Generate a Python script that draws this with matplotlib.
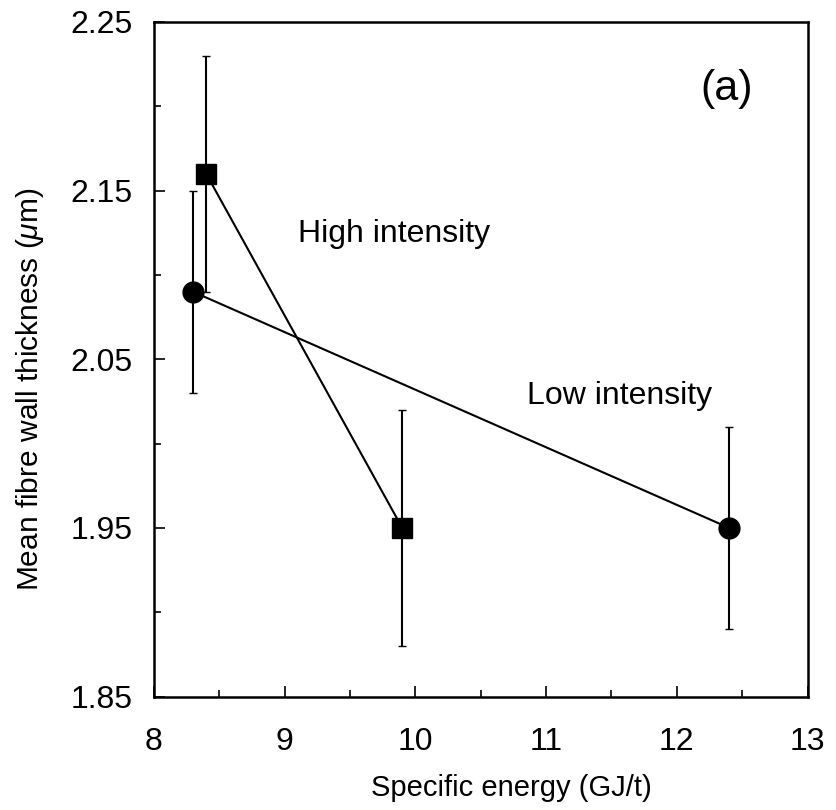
import matplotlib.pyplot as plt
from matplotlib.ticker import MultipleLocator

plt.rcParams['font.family'] = ['Liberation Sans', 'DejaVu Sans']
plt.rcParams['mathtext.fontset'] = 'custom'
plt.rcParams['mathtext.it'] = 'Liberation Sans:italic'

# Low intensity series (circles)
low_energy = [8.3, 12.4]
low_thick = [2.09, 1.95]
low_err = [0.06, 0.06]

# High intensity series (squares)
high_energy = [8.4, 9.9]
high_thick = [2.16, 1.95]
high_err = [0.07, 0.07]

x_ticks = [8, 9, 10, 11, 12, 13]
y_ticks = [1.85, 1.95, 2.05, 2.15, 2.25]

fig = plt.figure(figsize=(8.36, 8.10), dpi=100)
ax = fig.add_axes([0.184, 0.140, 0.782, 0.833])

ax.errorbar(low_energy, low_thick, yerr=low_err, fmt="o-", color="black",
            markersize=15, linewidth=1.5, elinewidth=1.5, capsize=3)
ax.errorbar(high_energy, high_thick, yerr=high_err, fmt="s-", color="black",
            markersize=14, linewidth=1.5, elinewidth=1.5, capsize=3)

ax.text(9.84, 2.124, "High intensity", fontsize=23, ha="center", va="center")
ax.text(11.56, 2.028, "Low intensity", fontsize=23, ha="center", va="center")
ax.text(12.38, 2.210, "(a)", fontsize=31, ha="center", va="center")

ax.set_xlim(8, 13)
ax.set_ylim(1.85, 2.25)
ax.set_xticks(x_ticks)
ax.set_yticks(y_ticks)
ax.set_yticklabels([f"{v:.2f}" for v in y_ticks])
ax.xaxis.set_minor_locator(MultipleLocator(0.5))
ax.yaxis.set_minor_locator(MultipleLocator(0.05))
ax.tick_params(direction="in", which="both", top=False, right=False,
               labelsize=23, width=1.2)
ax.tick_params(axis="y", which="major", length=8, pad=15)
ax.tick_params(axis="x", which="major", length=8, pad=22)
ax.tick_params(which="minor", length=5)
for s in ax.spines.values():
    s.set_linewidth(1.8)

ax.set_xlabel("Specific energy (GJ/t)", fontsize=21)
ax.set_ylabel(r"Mean fibre wall thickness ($\mu$m)", fontsize=21.5)
ax.xaxis.set_label_coords(0.547, -0.115)
ax.yaxis.set_label_coords(-0.165, 0.455)

fig.savefig("out.png", dpi=100)
